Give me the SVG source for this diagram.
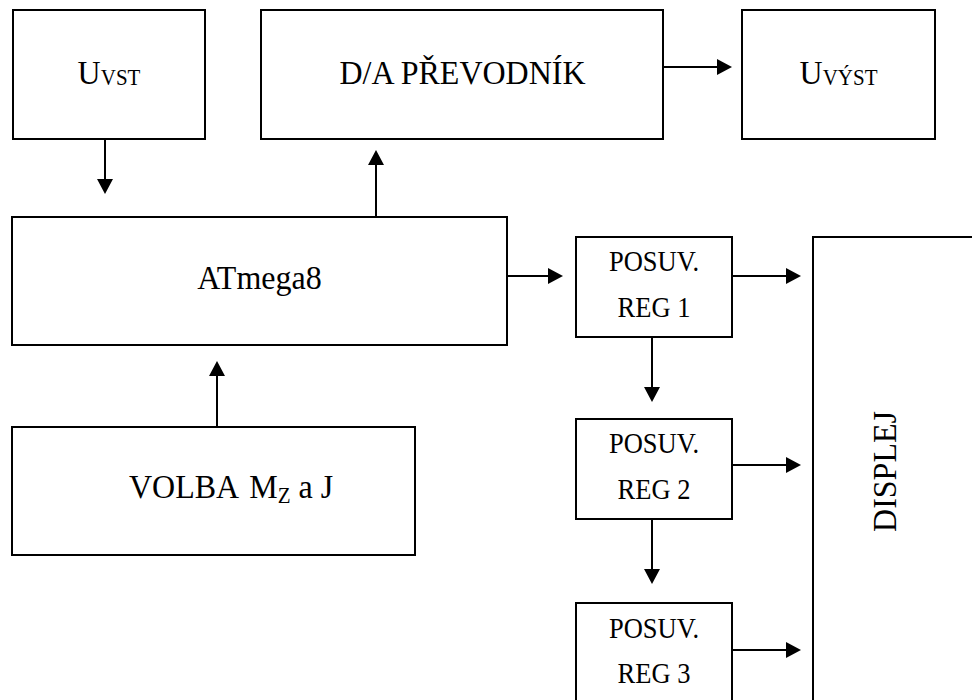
<svg xmlns="http://www.w3.org/2000/svg" width="972" height="700" viewBox="0 0 972 700">
<style>
  .box { fill: #fff; stroke: #000; stroke-width: 2; }
  .t { font-family: "Liberation Serif", "Times New Roman", serif; fill: #000; }
  .big { font-size: 32px; }
  .sub { font-size: 21px; }
  .reg { font-size: 26.5px; }
  .conn line { stroke: #000; stroke-width: 2; marker-end: url(#ah); }
</style>
<defs>
  <marker id="ah" viewBox="0 0 15 16" refX="11" refY="8" markerWidth="15" markerHeight="16" markerUnits="userSpaceOnUse" orient="auto">
    <path d="M0,0 L15,8 L0,16 Z" fill="#000"/>
  </marker>
</defs>
<rect width="972" height="700" fill="#fff"/>

<g id="uvst">
  <rect class="box" x="13" y="10" width="192" height="129"/>
  <text class="t big" text-anchor="middle" transform="translate(109,84) scale(1,1.08)">U<tspan class="sub" dy="1">VST</tspan></text>
</g>

<g id="da">
  <rect class="box" x="261" y="10" width="402" height="129"/>
  <text class="t big" text-anchor="middle" transform="translate(462.5,84) scale(1,1.08)">D/A PŘEVODNÍK</text>
</g>

<g id="uvyst">
  <rect class="box" x="742" y="10" width="193" height="129"/>
  <text class="t big" text-anchor="middle" transform="translate(838.5,84) scale(1,1.08)">U<tspan class="sub" dy="1">VÝST</tspan></text>
</g>

<g id="atmega">
  <rect class="box" x="12" y="217" width="495" height="128"/>
  <text class="t big" text-anchor="middle" transform="translate(259.5,289) scale(1,1.08)">ATmega8</text>
</g>

<g id="volba">
  <rect class="box" x="12" y="427" width="403" height="128"/>
  <text class="t big" transform="translate(129,498) scale(1,1.08)">VOLBA<tspan dx="2"> M</tspan><tspan class="sub" dy="5">Z</tspan><tspan dy="-5"> a J</tspan></text>
</g>

<g id="reg1">
  <rect class="box" x="576" y="237" width="156" height="100"/>
  <text class="t reg" text-anchor="middle" transform="translate(654,271) scale(1,1.08)">POSUV.</text>
  <text class="t reg" text-anchor="middle" transform="translate(654,317) scale(1,1.08)">REG 1</text>
</g>

<g id="reg2">
  <rect class="box" x="576" y="419" width="156" height="100"/>
  <text class="t reg" text-anchor="middle" transform="translate(654,453) scale(1,1.08)">POSUV.</text>
  <text class="t reg" text-anchor="middle" transform="translate(654,499) scale(1,1.08)">REG 2</text>
</g>

<g id="reg3">
  <rect class="box" x="576" y="603" width="156" height="130"/>
  <text class="t reg" text-anchor="middle" transform="translate(654,638) scale(1,1.08)">POSUV.</text>
  <text class="t reg" text-anchor="middle" transform="translate(654,683) scale(1,1.08)">REG 3</text>
</g>

<g id="displej">
  <rect class="box" x="813" y="237" width="200" height="500"/>
  <text class="t big" text-anchor="middle" transform="translate(896,471.5) rotate(-90) scale(1,1.08)">DISPLEJ</text>
</g>

<g id="connectors" class="conn">
  <line x1="105" y1="139" x2="105" y2="190"/>
  <line x1="376" y1="217" x2="376" y2="154"/>
  <line x1="663" y1="67" x2="728" y2="67"/>
  <line x1="507" y1="276" x2="559" y2="276"/>
  <line x1="217" y1="427" x2="217" y2="365"/>
  <line x1="732" y1="276" x2="797" y2="276"/>
  <line x1="652" y1="337" x2="652" y2="398"/>
  <line x1="732" y1="465" x2="797" y2="465"/>
  <line x1="652" y1="519" x2="652" y2="580"/>
  <line x1="732" y1="650" x2="797" y2="650"/>
</g>
</svg>
